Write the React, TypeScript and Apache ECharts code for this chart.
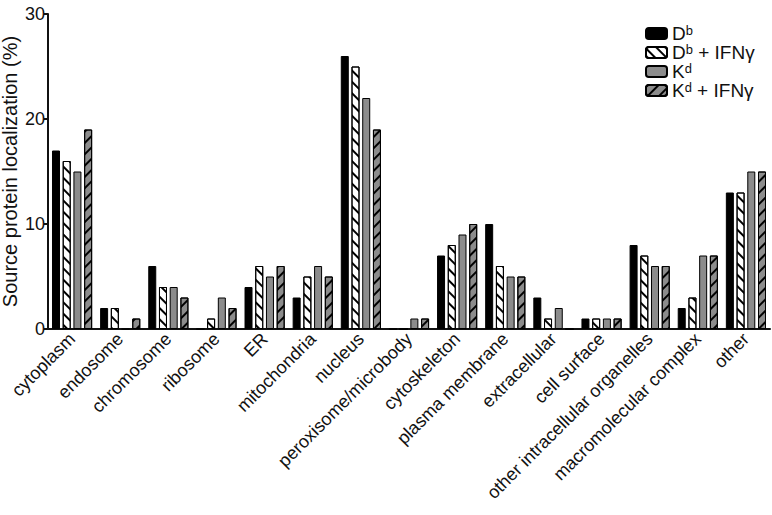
import React, { useEffect, useRef } from 'react';
import * as echarts from 'echarts';

const categories = [
  'cytoplasm', 'endosome', 'chromosome', 'ribosome', 'ER', 'mitochondria', 'nucleus',
  'peroxisome/microbody', 'cytoskeleton', 'plasma membrane', 'extracellular', 'cell surface',
  'other intracellular organelles', 'macromolecular complex', 'other',
];
const seriesNames = ['Dᵇ', 'Dᵇ + IFNγ', 'Kᵈ', 'Kᵈ + IFNγ'];
const dB = [17, 2, 6, 0, 4, 3, 26, 0, 7, 10, 3, 1, 8, 2, 13];
const dBIfn = [16, 2, 4, 1, 6, 5, 25, 0, 8, 6, 1, 1, 7, 3, 13];
const kD = [15, 0, 4, 3, 5, 6, 22, 1, 9, 5, 2, 1, 6, 7, 15];
const kDIfn = [19, 1, 3, 2, 6, 5, 19, 1, 10, 5, 0, 1, 6, 7, 15];
const yMin = 0;
const yMax = 30;
const yInterval = 10;

const FONT = 'Arial, "Liberation Sans", Helvetica, sans-serif';

export default function App() {
  const ref = useRef<HTMLDivElement>(null);
  useEffect(() => {
    const chart = echarts.init(ref.current!, null, { renderer: 'svg' });
    const base = { type: 'bar', barWidth: 8, barGap: '34%' };
    const stripe = (rot: number) => ({
      symbol: 'rect',
      symbolSize: 1,
      dashArrayX: [1, 0],
      dashArrayY: [2, 5.5],
      rotation: rot,
      color: '#000',
    });
    chart.setOption({
      animation: false,
      textStyle: { fontFamily: FONT },
      grid: { left: 48, right: 2, top: 14, bottom: 186, containLabel: false, outerBoundsMode: 'none' },
      legend: {
        orient: 'vertical',
        left: 640,
        top: 19,
        itemWidth: 21,
        itemHeight: 11,
        itemGap: 0,
        textStyle: { fontSize: 19, color: '#111', fontFamily: FONT },
        data: seriesNames,
      },
      xAxis: {
        type: 'category',
        data: categories,
        axisLine: { lineStyle: { color: '#111', width: 2 } },
        axisTick: { alignWithLabel: true, length: 6, lineStyle: { color: '#111', width: 2 } },
        axisLabel: { rotate: 45, fontSize: 18, color: '#111', margin: 7, interval: 0 },
      },
      yAxis: {
        type: 'value',
        min: yMin,
        max: yMax,
        interval: yInterval,
        name: 'Source protein localization (%)',
        nameLocation: 'middle',
        nameGap: 28,
        nameMoveOverlap: false,
        nameTextStyle: { fontSize: 20, color: '#111' },
        splitLine: { show: false },
        axisLine: { show: true, lineStyle: { color: '#111', width: 2 } },
        axisTick: { show: true, length: 4, lineStyle: { color: '#111', width: 2 } },
        axisLabel: { fontSize: 18, color: '#111', margin: 3 },
      },
      series: [
        { ...base, name: seriesNames[0], data: dB,
          itemStyle: { color: '#000', borderColor: '#000', borderWidth: 1 } },
        { ...base, name: seriesNames[1], data: dBIfn,
          itemStyle: { color: '#fff', borderColor: '#000', borderWidth: 1, decal: stripe(Math.PI / 4) } },
        { ...base, name: seriesNames[2], data: kD,
          itemStyle: { color: '#8c8c8c', borderColor: '#000', borderWidth: 1 } },
        { ...base, name: seriesNames[3], data: kDIfn,
          itemStyle: { color: '#8c8c8c', borderColor: '#000', borderWidth: 1, decal: stripe(-Math.PI / 4) } },
      ],
    });
    return () => chart.dispose();
  }, []);
  return <div ref={ref} style={{ position: 'fixed', left: 0, top: 0, width: 772, height: 515, background: '#fff' }} />;
}
